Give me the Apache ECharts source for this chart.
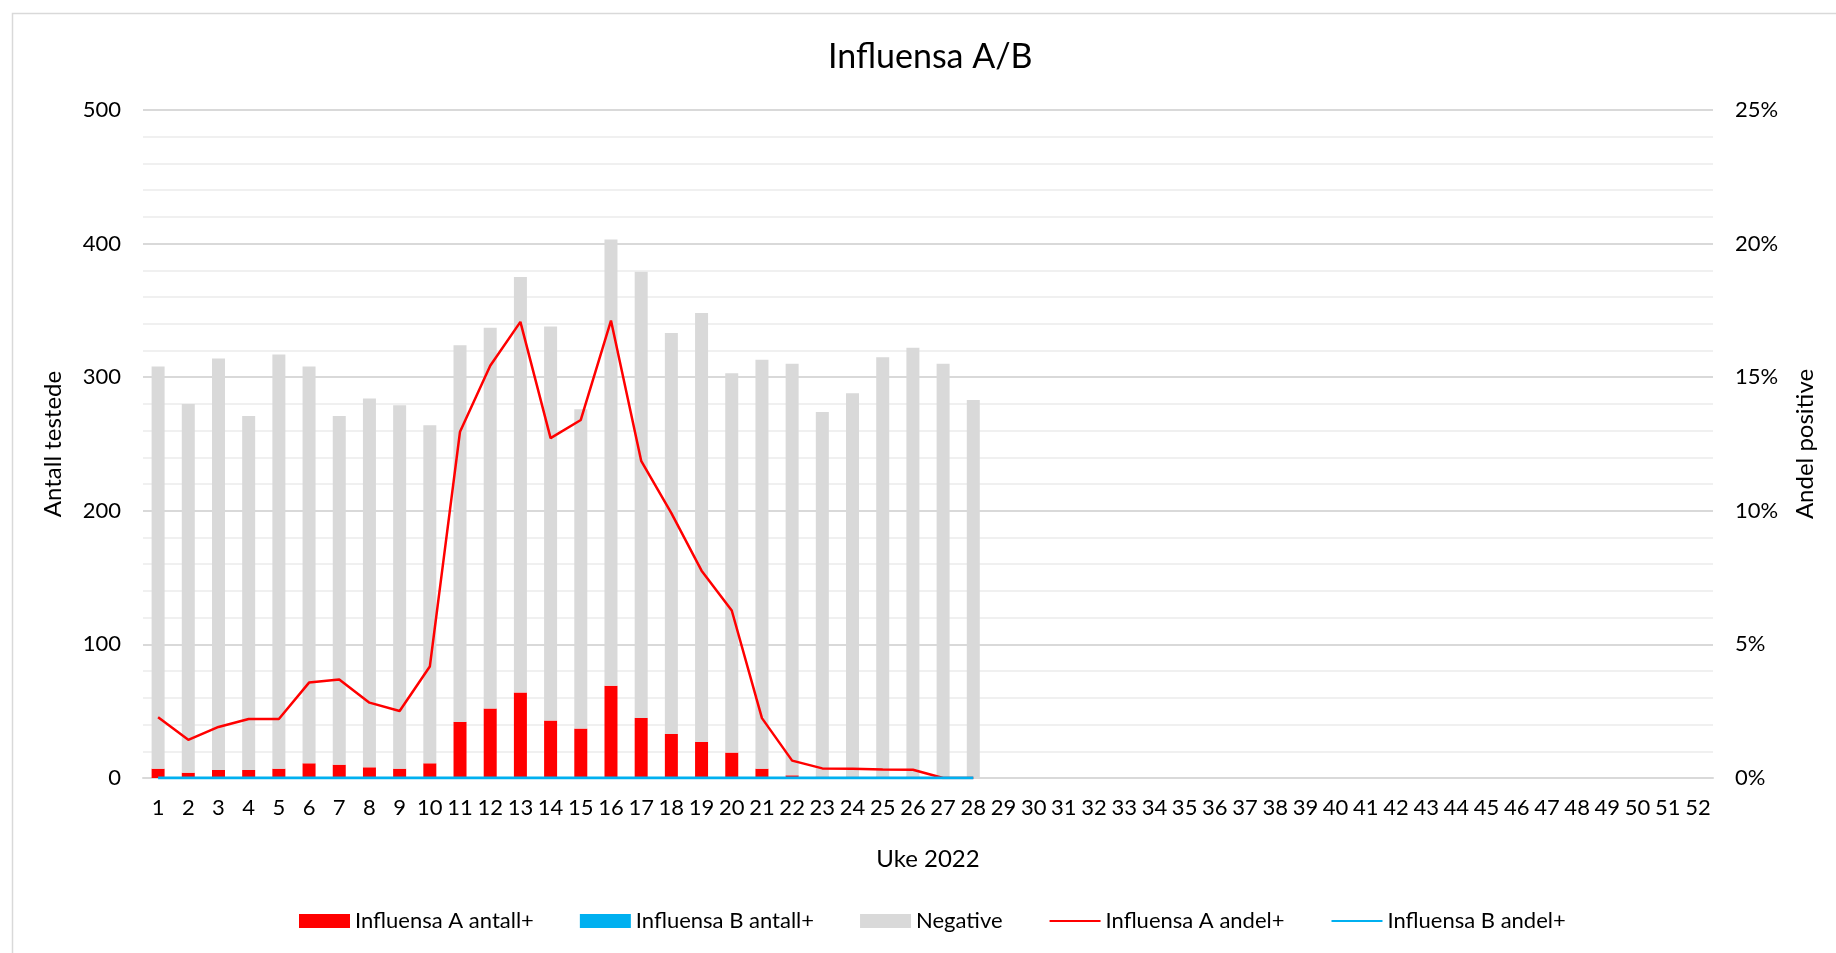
<!DOCTYPE html>
<html><head><meta charset="utf-8">
<script src="https://cdn.jsdelivr.net/npm/echarts@6/dist/echarts.min.js"></script>
<style>html,body{margin:0;padding:0;background:#fff}#c{width:1836px;height:953px}</style>
</head><body><div id="c"></div>
<script>
const weeks = Array.from({length: 52}, (_, i) => String(i + 1));
const fluA_count = [7,4,6,6,7,11,10,8,7,11,42,52,64,43,37,69,45,33,27,19,7,2,1,1,1,1,0,0];
const fluB_count = [0,0,0,0,0,0,0,0,0,0,0,0,0,0,0,0,0,0,0,0,0,0,0,0,0,0,0,0];
const negative   = [301,276,308,265,310,297,261,276,272,253,282,285,311,295,239,334,334,300,321,284,306,308,273,287,314,321,310,283];
const fluA_share = [0.0227,0.0143,0.0191,0.0221,0.0221,0.0357,0.0369,0.0282,0.0251,0.0417,0.1296,0.1543,0.1707,0.1272,0.1340,0.1712,0.1187,0.0991,0.0776,0.0627,0.0224,0.0065,0.0036,0.0035,0.0032,0.0031,0,0];
const fluB_share = [0,0,0,0,0,0,0,0,0,0,0,0,0,0,0,0,0,0,0,0,0,0,0,0,0,0,0,0];
const leftTicks = [0,100,200,300,400,500];
const rightTicks = ['0%','5%','10%','15%','20%','25%'];

const FONT = 'Lato, "Open Sans", sans-serif';
const chart = echarts.init(document.getElementById('c'));
chart.setOption({
  animation: false,
  backgroundColor: '#fff',
  textStyle: {fontFamily: FONT},
  graphic: [{type: 'rect', left: 10, top: 11, shape: {width: 1840, height: 960}, style: {fill: 'none', stroke: '#d9d9d9', lineWidth: 1.5}, silent: true}],
  title: {text: 'Influensa A/B', left: 823, top: 35, textStyle: {fontFamily: FONT, fontSize: 34, fontWeight: 'normal', color: '#000'}},
  legend: {
    bottom: 16, left: 294, itemWidth: 51, itemHeight: 14, itemGap: 46,
    textStyle: {fontFamily: FONT, fontSize: 22, color: '#000'},
    data: [
      {name: 'Influensa A antall+', icon: 'rect'},
      {name: 'Influensa B antall+', icon: 'rect'},
      {name: 'Negative', icon: 'rect'},
      {name: 'Influensa A andel+', itemStyle: {opacity: 0}},
      {name: 'Influensa B andel+', itemStyle: {opacity: 0}}
    ]
  },
  grid: {left: 143, right: 123, top: 110, bottom: 175},
  xAxis: {
    type: 'category', data: weeks, boundaryGap: true,
    name: 'Uke 2022', nameLocation: 'middle', nameGap: 69,
    nameTextStyle: {fontFamily: FONT, fontSize: 24, color: '#000'},
    axisLine: {show: true, lineStyle: {color: '#d9d9d9', width: 2}},
    axisTick: {show: false},
    axisLabel: {fontFamily: FONT, fontSize: 22, color: '#000', margin: 19, interval: 0}
  },
  yAxis: [
    {
      type: 'value', min: leftTicks[0], max: leftTicks[leftTicks.length - 1], interval: 100,
      name: 'Antall testede', nameLocation: 'middle', nameRotate: 90, nameGap: 78,
      nameTextStyle: {fontFamily: FONT, fontSize: 24, color: '#000'},
      axisLine: {show: false}, axisTick: {show: false},
      axisLabel: {fontFamily: FONT, fontSize: 22, color: '#000', margin: 22},
      splitLine: {show: true, lineStyle: {color: '#d9d9d9', width: 2}},
      minorTick: {show: false, splitNumber: 5},
      minorSplitLine: {show: true, lineStyle: {color: '#f0f0f0', width: 2}}
    },
    {
      type: 'value', min: 0, max: 0.25, interval: 0.05, position: 'right',
      name: 'Andel positive', nameLocation: 'middle', nameRotate: 90, nameGap: 80,
      nameTextStyle: {fontFamily: FONT, fontSize: 24, color: '#000'},
      axisLine: {show: false}, axisTick: {show: false}, splitLine: {show: false},
      axisLabel: {fontFamily: FONT, fontSize: 22, color: '#000', margin: 22,
        formatter: v => rightTicks[Math.round(v / 0.05)]}
    }
  ],
  series: [
    {name: 'Influensa A antall+', type: 'bar', stack: 'tot', data: fluA_count, barWidth: 13, itemStyle: {color: '#ff0000'}},
    {name: 'Influensa B antall+', type: 'bar', stack: 'tot', data: fluB_count, barWidth: 13, itemStyle: {color: '#00b0f0'}},
    {name: 'Negative', type: 'bar', stack: 'tot', data: negative, barWidth: 13, itemStyle: {color: '#d9d9d9'}},
    {name: 'Influensa A andel+', type: 'line', yAxisIndex: 1, data: fluA_share, symbol: 'none', lineStyle: {color: '#ff0000', width: 2.5}, itemStyle: {color: '#ff0000'}},
    {name: 'Influensa B andel+', type: 'line', yAxisIndex: 1, data: fluB_share, symbol: 'none', lineStyle: {color: '#00b0f0', width: 3}, itemStyle: {color: '#00b0f0'}}
  ]
});
</script></body></html>
